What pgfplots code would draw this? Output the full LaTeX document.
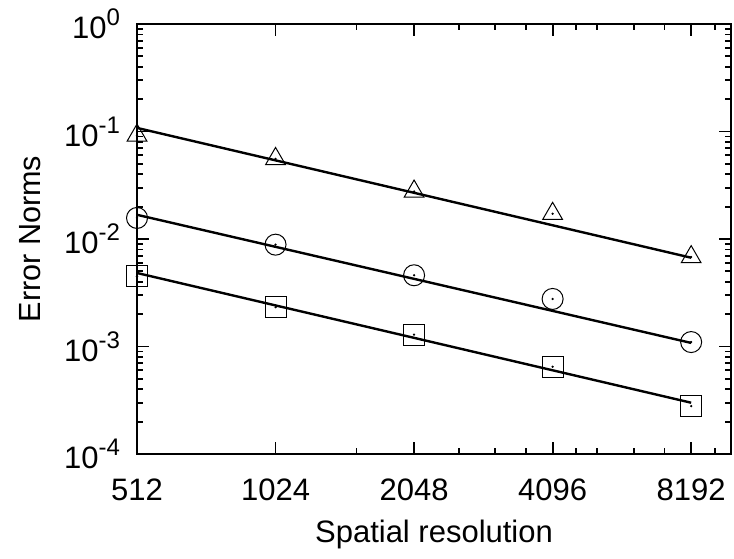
\documentclass[border=0pt]{standalone}
\usepackage{fontspec}
\setmainfont{Liberation Sans}
\usepackage{pgfplots}
\pgfplotsset{compat=1.18}
\newcommand{\sups}[1]{\raisebox{0.42em}{\fontsize{12}{13}\selectfont #1}}

\pgfplotstableread{
x      tri     circ     sq
512    0.0920  0.0157   0.00448
1024   0.0557  0.00886  0.00232
2048   0.0277  0.0046   0.00129
4096   0.0172  0.00277  0.000649
8192   0.0068  0.00110  0.000279
}\errdata

\pgfplotstableread{
x      tri     circ     sq
512    0.108   0.0168   0.00483
8192   0.0067  0.00108  0.000300
}\fitdata

\begin{document}
\begin{tikzpicture}
\begin{axis}[
  scale only axis, width=297pt, height=215pt,
  xmode=log, ymode=log,
  xmin=512, xmax=10000, ymin=1e-4, ymax=1,
  xtick={512,1024,2048,4096,8192},
  xticklabels={512,1024,2048,4096,8192},
  minor xtick={1536,2560,3072,3584,4608,5120,6144,7168,9216},
  ytick={1e-4,1e-3,1e-2,1e-1,1},
  yticklabels={10\sups{-4},10\sups{-3},10\sups{-2},10\sups{-1},10\sups{0}},
  minor ytick={2e-4,3e-4,4e-4,5e-4,6e-4,7e-4,8e-4,9e-4,
               2e-3,3e-3,4e-3,5e-3,6e-3,7e-3,8e-3,9e-3,
               2e-2,3e-2,4e-2,5e-2,6e-2,7e-2,8e-2,9e-2,
               2e-1,3e-1,4e-1,5e-1,6e-1,7e-1,8e-1,9e-1},
  tick align=inside, xtick pos=both, ytick pos=both,
  major tick length=6pt, minor tick length=2.8pt,
  every tick/.style={black, line width=0.9pt},
  axis line style={line width=1pt},
  tick label style={font=\fontsize{15.5}{18}\selectfont},
  xticklabel style={anchor=center, yshift=-18pt},
  yticklabel style={xshift=-5pt},
  xlabel={Spatial resolution},
  ylabel={Error Norms},
  every axis x label/.style={at={(axis description cs:0.5,-0.188)}, anchor=center, font=\fontsize{15.5}{18}\selectfont},
  every axis y label/.style={at={(axis description cs:-0.180,0.5)}, rotate=90, anchor=center, font=\fontsize{15.3}{18}\selectfont},
  clip=false,
]
\addplot[black, line width=1.2pt] table[x=x, y=tri] {\fitdata};
\addplot[black, line width=1.2pt] table[x=x, y=circ] {\fitdata};
\addplot[black, line width=1.2pt] table[x=x, y=sq] {\fitdata};
\addplot[only marks, mark=triangle, mark size=5.7pt, mark options={black, line width=0.5pt, fill=none}] table[x=x, y=tri] {\errdata};
\addplot[only marks, mark=o, mark size=5.25pt, mark options={black, line width=0.5pt}] table[x=x, y=circ] {\errdata};
\addplot[only marks, mark=square, mark size=5.25pt, mark options={black, line width=0.5pt}] table[x=x, y=sq] {\errdata};
\addplot[only marks, mark=*, mark size=0.35pt, black] table[x=x, y=tri] {\errdata};
\addplot[only marks, mark=*, mark size=0.35pt, black] table[x=x, y=circ] {\errdata};
\addplot[only marks, mark=*, mark size=0.35pt, black] table[x=x, y=sq] {\errdata};
\end{axis}
\pgfresetboundingbox
\useasboundingbox (-68.5pt,-52pt) rectangle (298.5pt,227pt);
\end{tikzpicture}
\end{document}
